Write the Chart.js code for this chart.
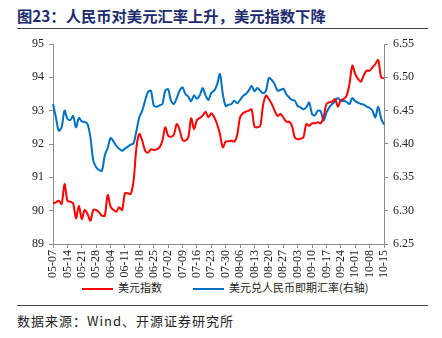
<!DOCTYPE html>
<html>
<head>
<meta charset="utf-8">
<script src="https://cdn.jsdelivr.net/npm/chart.js@4/dist/chart.umd.min.js"></script>
<style>
  body { margin: 0; background: #fff; }
  #wrap { position: relative; width: 442px; height: 338px; overflow: hidden; background: #fff; }
  .title {
    position: absolute; left: 17px; top: 4px;
    font: bold 15.3px "Noto Sans CJK SC", "Liberation Serif", serif;
    color: #1c2b6e; white-space: nowrap;
  }
  .rule { position: absolute; left: 17px; width: 411px; height: 1px; background: #444; }
  #chart { position: absolute; left: 0; top: 30px; }
  .legend {
    position: absolute; top: 279px; font: 11px "Noto Sans CJK SC", serif; color: #222;
    white-space: nowrap;
  }
  .legend span.line { display: inline-block; width: 31px; height: 2px; vertical-align: middle; margin-right: 5px; }
  .source {
    position: absolute; left: 17px; top: 311px;
    font: 13px "Noto Sans CJK SC", "Liberation Serif", serif; color: #222; letter-spacing: 1px;
  }
</style>
</head>
<body>
<div id="wrap">
  <div class="title">图23：人民币对美元汇率上升，美元指数下降</div>
  <div class="rule" style="top:28px"></div>
  <canvas id="chart" width="442" height="248"></canvas>
  <div class="legend" style="left:82px"><span class="line" style="background:#ff0000"></span>美元指数</div>
  <div class="legend" style="left:193px"><span class="line" style="background:#0070c0"></span>美元兑人民币即期汇率(右轴)</div>
  <div class="rule" style="top:305px"></div>
  <div class="source">数据来源：Wind、开源证券研究所</div>
</div>
<script>
const weekLabels = ['05-07', '05-14', '05-21', '05-28', '06-04', '06-11', '06-18', '06-25',
    '07-02', '07-09', '07-16', '07-23', '07-30', '08-06', '08-13', '08-20', '08-27',
    '09-03', '09-10', '09-17', '09-24', '10-01', '10-08', '10-15']

// 美元指数 (left axis), one value per weekday
const usdIndex = [
    90.22, 90.25, 90.30, 90.20, 90.80, 90.30, 90.27, 90.22, 89.77, 90.15,
    89.75, 90.02, 89.90, 89.70, 90.02, 90.02, 89.95, 89.85, 89.85, 90.47,
    90.12, 90.02, 89.97, 90.10, 90.02, 90.52, 90.52, 90.50, 90.90, 91.90,
    92.30, 92.10, 91.80, 91.74, 91.84, 91.82, 91.84, 91.90, 92.10, 92.50,
    92.25, 92.22, 92.28, 92.60, 92.42, 92.12, 92.10, 92.20, 92.77, 92.45,
    92.72, 92.78, 92.85, 92.97, 92.80, 92.92, 92.80, 92.60, 92.30, 91.90,
    92.07, 92.08, 92.10, 92.07, 92.27, 92.80, 92.92, 92.97, 93.00, 93.04,
    92.52, 92.50, 92.54, 93.17, 93.45, 93.35, 93.20, 93.00, 92.84, 92.90,
    92.80, 92.67, 92.67, 92.55, 92.20, 92.14, 92.16, 92.20, 92.60, 92.55,
    92.62, 92.62, 92.65, 92.62, 92.80, 93.20, 93.25, 93.27, 93.35, 93.12,
    93.32, 93.35, 93.45, 93.80, 94.35, 94.10, 93.95, 93.87, 94.07, 94.20,
    94.20, 94.30, 94.40, 94.52, 94.00, 93.97
]

// 美元兑人民币即期汇率 (right axis)
const usdCny = [
    6.460, 6.440, 6.420, 6.425, 6.450, 6.438, 6.436, 6.442, 6.425, 6.439,
    6.434, 6.433, 6.430, 6.410, 6.375, 6.365, 6.361, 6.360, 6.383, 6.394,
    6.409, 6.404, 6.397, 6.393, 6.390, 6.393, 6.396, 6.399, 6.401, 6.420,
    6.440, 6.450, 6.465, 6.478, 6.480, 6.458, 6.456, 6.458, 6.460, 6.480,
    6.482, 6.465, 6.460, 6.469, 6.480, 6.485, 6.475, 6.471, 6.464, 6.473,
    6.468, 6.473, 6.484, 6.473, 6.466, 6.477, 6.480, 6.489, 6.505, 6.475,
    6.457, 6.459, 6.460, 6.465, 6.461, 6.466, 6.472, 6.475, 6.480, 6.487,
    6.479, 6.484, 6.480, 6.476, 6.480, 6.499, 6.496, 6.490, 6.480, 6.481,
    6.483, 6.475, 6.470, 6.466, 6.465, 6.457, 6.455, 6.452, 6.455, 6.462,
    6.445, 6.443, 6.450, 6.449, 6.435, 6.447, 6.455, 6.460, 6.464, 6.469,
    6.464, 6.465, 6.463, 6.460, 6.469, 6.464, 6.462, 6.460, 6.459, 6.456,
    6.454, 6.450, 6.440, 6.456, 6.438, 6.429
]

const leftTicks = [89, 90, 91, 92, 93, 94, 95]
const rightTicks = [6.25, 6.30, 6.35, 6.40, 6.45, 6.50, 6.55]

// weekday labels from 05-07 on
const makeDays = () => {
    const days = []
    const d = new Date(2018, 4, 7)
    while (days.length < usdIndex.length) {
        const wd = d.getDay()
        if (wd !== 0 && wd !== 6) {
            const mm = String(d.getMonth() + 1).padStart(2, '0')
            const dd = String(d.getDate()).padStart(2, '0')
            days.push(`${mm}-${dd}`)
        }
        d.setDate(d.getDate() + 1)
    }
    return days
}

const tickFont = { family: '"Liberation Serif", "Times New Roman", serif', size: 12 }
const axisColor = '#8c8c8c'

new Chart(document.getElementById('chart'), {
    type: 'line',
    data: {
        labels: makeDays(),
        datasets: [{
            label: '美元指数',
            data: usdIndex,
            borderColor: '#ff0000',
            backgroundColor: '#ff0000',
            borderWidth: 2,
            pointRadius: 0,
            tension: 0.3,
            yAxisID: 'y'
        }, {
            label: '美元兑人民币即期汇率(右轴)',
            data: usdCny,
            borderColor: '#0070c0',
            backgroundColor: '#0070c0',
            borderWidth: 2,
            pointRadius: 0,
            tension: 0.3,
            yAxisID: 'y1'
        }]
    },
    options: {
        responsive: false,
        animation: false,
        devicePixelRatio: 1,
        layout: { padding: { top: 14, left: 0, right: 0, bottom: 0 } },
        plugins: { legend: { display: false }, tooltip: { enabled: false } },
        scales: {
            x: {
                grid: { drawOnChartArea: false, drawTicks: true, tickLength: 4, color: axisColor },
                border: { color: axisColor },
                ticks: {
                    autoSkip: false, maxRotation: 90, minRotation: 90, padding: 2,
                    color: '#222', font: tickFont,
                    callback: function (val) {
                        const l = this.getLabelForValue(val)
                        return weekLabels.includes(l) ? l : null
                    }
                },
                afterFit: (s) => { s.height = 34 }
            },
            y: {
                position: 'left',
                min: leftTicks[0], max: leftTicks[leftTicks.length - 1],
                afterBuildTicks: (s) => { s.ticks = leftTicks.map(v => ({ value: v })) },
                grid: { drawOnChartArea: false, tickLength: 4, color: axisColor },
                border: { color: axisColor },
                ticks: { color: '#222', font: tickFont, padding: 5 },
                afterFit: (s) => { s.width = 53 }
            },
            y1: {
                position: 'right',
                min: rightTicks[0], max: rightTicks[rightTicks.length - 1],
                afterBuildTicks: (s) => { s.ticks = rightTicks.map(v => ({ value: v })) },
                grid: { drawOnChartArea: false, tickLength: 4, color: axisColor },
                border: { color: axisColor },
                ticks: { color: '#222', font: tickFont, padding: 5, callback: (v) => v.toFixed(2) },
                afterFit: (s) => { s.width = 58 }
            }
        }
    }
})
</script>
</body>
</html>
